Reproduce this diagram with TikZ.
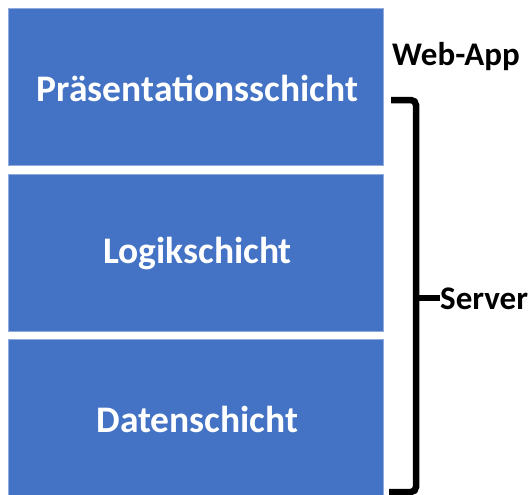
\documentclass[tikz,border=0pt]{standalone}
\usepackage{fontspec}
\setmainfont{Carlito}
\definecolor{layerblue}{HTML}{4472C4}
\definecolor{layeredge}{HTML}{8FAADC}
\begin{document}
\begin{tikzpicture}[x=1pt,y=-1pt,
  layer/.style={fill=layerblue,draw=layeredge,line width=0.8pt,minimum width=375pt,minimum height=157pt,anchor=north west,inner sep=0pt},
  layertext/.style={font=\fontsize{37.5}{44}\selectfont\bfseries,text=white,inner sep=0pt},
  sidelabel/.style={font=\fontsize{33}{40}\selectfont\bfseries,inner sep=0pt},
  bracket/.style={line width=6.5pt,rounded corners=5pt}]
\useasboundingbox (0,0) rectangle (530,495);
\node[layer] (p) at (8,8) {};
\node[layertext] (pt) at (197.5,88) {Präsentationsschicht};
\node[layer] (l) at (8,173.5) {};
\node[layertext] (lt) at (197.5,254) {Logikschicht};
\node[layer] (d) at (8,339) {};
\node[layertext] (dt) at (197.5,419) {Datenschicht};
\node[sidelabel] (web) at (456,57) {Web-App};
\node[sidelabel,anchor=west] (srv) at (440,299) {Server};
\coordinate (btop) at (391,100);
\coordinate (bmid) at (416,298);
\coordinate (bbot) at (389,492);
\draw[bracket] (btop) -| (bmid);
\draw[bracket] (bbot) -| (bmid);
\draw[line width=6.5pt] (bmid) -- (srv.west |- bmid);
\end{tikzpicture}
\end{document}
